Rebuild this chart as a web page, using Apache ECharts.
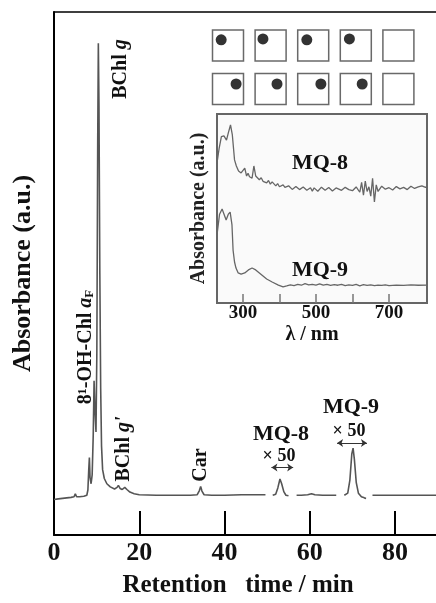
<!DOCTYPE html>
<html>
<head>
<meta charset="utf-8">
<script src="https://cdn.jsdelivr.net/npm/echarts@6/dist/echarts.min.js"></script>
<style>
html, body { margin: 0; padding: 0; background: #fff; }
#chart { width: 436px; height: 603px; }
</style>
</head>
<body>
<div id="chart"></div>
<script>
// chromatogram pieces [retention time (min), absorbance (a.u.)]
const chromMain = [
	[0, 6.8], [1, 6.9], [2, 7.0], [3, 7.1], [4, 7.2], [4.7, 7.3], [5.0, 7.9], [5.3, 7.3], [6, 7.3], [7, 7.4],
	[7.7, 7.6], [7.95, 8.6], [8.15, 12.5], [8.3, 14.8], [8.45, 11.0], [8.7, 9.8], [8.95, 11.5], [9.2, 19],
	[9.4, 29.5], [9.6, 24], [9.85, 19.7], [10.05, 35], [10.25, 75], [10.4, 94], [10.55, 82], [10.75, 50],
	[10.95, 28], [11.15, 17], [11.4, 12.5], [11.8, 10.8], [12.4, 9.8], [13.2, 9.2], [14.2, 8.8], [14.8, 9.1],
	[15.1, 9.5], [15.5, 8.9], [16.0, 8.7], [16.6, 9.1], [17.1, 8.7], [17.8, 8.2], [18.8, 7.9], [20, 7.7],
	[24, 7.6], [28, 7.6], [32, 7.6], [33.6, 7.7], [34.1, 8.5], [34.4, 9.3], [34.7, 8.4], [35.2, 7.7],
	[37, 7.6], [40, 7.6], [44, 7.7], [47, 7.7], [49.6, 7.7]
];
const mq8Seg = [[51.3, 7.6], [52.0, 7.8], [52.5, 9.0], [53.0, 10.7], [53.4, 9.8], [53.9, 8.3], [54.4, 7.6], [55.0, 7.5]];
const midSeg = [[56.9, 7.6], [58, 7.6], [59.5, 7.7], [60.4, 7.9], [61.2, 7.7], [63, 7.6], [66.2, 7.6]];
const mq9Seg = [[68.1, 7.6], [68.9, 8.0], [69.4, 10.5], [69.85, 15.5], [70.15, 16.6], [70.45, 14.5], [70.9, 10],
	[71.4, 8.0], [72.1, 7.3], [72.8, 7.1], [73.2, 7.0]];
const tailSeg = [[74.7, 7.6], [78, 7.6], [82, 7.6], [86, 7.6], [89.6, 7.6]];
const mq8Arrow = [[51.0, 12.9], [56.1, 12.9]];
const mq9Arrow = [[66.4, 17.6], [73.4, 17.6]];
const xTicks = [20, 40, 60, 80];
const xLabels = [0, 20, 40, 60, 80];

// inset absorption spectra [wavelength (nm), absorbance (a.u.)]
const specMQ8 = [
	[229, 74], [235, 82], [241, 88], [248, 88.4], [255, 86.2], [260, 90], [266, 94.2], [271, 88.9], [277, 75.7],
	[282, 72.5], [288, 69.8], [295, 68.8], [300, 68.3], [305, 71.4], [310, 67.2], [314, 68.6], [318, 66.8],
	[325, 66.1], [330, 72.5], [335, 67.2], [340, 66.4], [345, 65.2], [350, 66.3], [355, 64.4], [360, 65.4],
	[365, 63.6], [370, 64.8], [375, 62.9], [380, 64.1], [385, 63.3], [390, 62.0], [395, 63.2], [400, 61.5],
	[405, 60.6], [410, 62.5], [415, 61.2], [420, 60.8], [425, 62.0], [430, 61.8], [435, 60.1], [440, 60.2],
	[445, 61.6], [450, 61.0], [455, 60.0], [460, 59.6], [465, 61.4], [470, 61.2], [475, 59.7], [480, 60.0],
	[485, 61.0], [490, 59.2], [495, 60.9], [500, 60.6], [505, 59.1], [510, 59.4], [515, 61.3], [520, 61.0],
	[525, 59.6], [530, 59.8], [535, 61.1], [540, 60.4], [545, 59.3], [550, 59.0], [555, 60.9], [560, 60.8],
	[570, 59.6], [580, 61.2], [590, 60.0], [600, 59.4], [610, 61.4], [620, 58.6], [625, 63.8], [630, 57.0],
	[635, 64.5], [640, 59.0], [645, 61.5], [650, 56.5], [655, 66.0], [660, 53.5], [665, 62.5], [670, 59.0],
	[680, 61.8], [690, 60.2], [700, 61.0], [710, 59.8], [720, 61.6], [730, 60.4], [740, 61.2], [750, 60.0],
	[760, 61.8], [770, 60.6], [780, 61.4], [790, 62.0], [800, 61.2], [804, 61.6]
];
const specMQ9 = [
	[229, 36], [236, 47], [243, 49.7], [249, 46.6], [254, 43.9], [260, 47], [265, 48.1], [270, 41.3], [273, 28],
	[277, 21.7], [281, 18.5], [287, 15.9], [295, 15.3], [305, 15.9], [315, 17.5], [325, 18.5], [335, 17.5],
	[345, 15.9], [355, 14.3], [365, 12.7], [380, 11.1], [397, 9.5], [410, 8.5], [420, 9.0], [430, 9.6],
	[440, 9.2], [450, 9.8], [460, 9.4], [470, 10.2], [480, 9.6], [490, 9.9], [500, 9.5], [510, 10.1],
	[520, 9.4], [530, 9.8], [540, 9.3], [550, 9.7], [560, 9.4], [570, 9.9], [580, 9.2], [590, 9.6],
	[600, 9.3], [610, 9.8], [620, 9.1], [630, 9.7], [640, 9.3], [650, 9.6], [660, 9.2], [670, 9.5],
	[680, 9.3], [690, 9.6], [700, 9.2], [720, 9.5], [740, 9.3], [760, 9.6], [780, 9.4], [804, 9.5]
];
const insetTicks = [300, 400, 500, 600, 700];
const insetLabels = [300, 500, 700];

// pictogram: 2 rows x 5 squares, dots inside
const squareCells = [[0, 1], [1, 1], [2, 1], [3, 1], [4, 1], [0, 0], [1, 0], [2, 0], [3, 0], [4, 0]];
const dotCells = [[-0.16, 1.13], [0.82, 1.15], [1.85, 1.13], [2.85, 1.15],
	[0.19, 0.115], [1.15, 0.115], [2.18, 0.115], [3.15, 0.115]];

const serif = '"Liberation Serif", "DejaVu Serif", serif';
const ink = "#111";

const chart = echarts.init(document.getElementById("chart"));

function seg(data) {
	return {
		type: "line", xAxisIndex: 0, yAxisIndex: 0, data: data,
		showSymbol: false, smooth: false,
		lineStyle: { color: "#555", width: 1.6 }
	};
}
function arrow(data) {
	return {
		type: "lines", coordinateSystem: "cartesian2d", xAxisIndex: 0, yAxisIndex: 0,
		symbol: ["arrow", "arrow"], symbolSize: 6,
		lineStyle: { color: "#333", width: 1.2, opacity: 1 },
		data: [{ coords: data }]
	};
}
function vtext(x, y, text, rich) {
	return {
		type: "text", x: x, y: y, rotation: Math.PI / 2,
		style: {
			text: text, align: "center", verticalAlign: "middle",
			font: "bold 20px " + serif, fill: ink, rich: rich
		}
	};
}
function htext(x, y, text, size) {
	return {
		type: "text", x: x, y: y,
		style: {
			text: text, align: "center", verticalAlign: "middle",
			font: "bold " + size + "px " + serif, fill: ink
		}
	};
}

const richG = {
	n: { fontFamily: serif, fontWeight: "bold", fontSize: 20, lineHeight: 20, color: ink },
	i: { fontFamily: serif, fontWeight: "bold", fontStyle: "italic", fontSize: 20, lineHeight: 20, color: ink },
	s: { fontFamily: serif, fontWeight: "bold", fontSize: 13, lineHeight: 13, verticalAlign: "bottom", color: ink }
};

const option = {
	animation: false,
	backgroundColor: "#fff",
	grid: [
		{ left: 54, right: 0, top: 12, bottom: 64 },
		{ left: 217, top: 114, width: 210, height: 189, show: true, backgroundColor: "#fafafa", borderColor: "#666", borderWidth: 2 },
		{ left: 206.7, top: 23.75, width: 213, height: 87 }
	],
	xAxis: [
		{
			gridIndex: 0, type: "value", min: 0, max: 89.6,
			axisLine: { show: true, onZero: false, lineStyle: { color: "#000", width: 2 } },
			axisTick: { show: true, inside: true, length: 24, customValues: xTicks, lineStyle: { color: "#000", width: 2 } },
			axisLabel: { customValues: xLabels, margin: 5, fontFamily: serif, fontWeight: "bold", fontSize: 26, color: ink },
			splitLine: { show: false },
			name: "Retention   time / min", nameLocation: "middle", nameGap: 38,
			nameTextStyle: { fontFamily: serif, fontWeight: "bold", fontSize: 25, color: ink, padding: [0, 14, 0, 0] }
		},
		{
			gridIndex: 0, type: "value", position: "top", min: 0, max: 89.6,
			axisLine: { show: true, onZero: false, lineStyle: { color: "#000", width: 1.5 } },
			axisTick: { show: false }, axisLabel: { show: false }, splitLine: { show: false }
		},
		{
			gridIndex: 1, type: "value", min: 229, max: 804,
			axisLine: { show: false },
			axisTick: { show: true, inside: true, length: 9, customValues: insetTicks, lineStyle: { color: "#777", width: 1.5 } },
			axisLabel: { customValues: insetLabels, margin: 1, fontFamily: serif, fontWeight: "bold", fontSize: 19, color: ink },
			splitLine: { show: false },
			name: "λ / nm", nameLocation: "middle", nameGap: 22,
			nameTextStyle: { fontFamily: serif, fontWeight: "bold", fontSize: 20, color: ink, padding: [0, 20, 0, 0] }
		},
		{ gridIndex: 2, type: "value", min: -0.5, max: 4.5, show: false }
	],
	yAxis: [
		{
			gridIndex: 0, type: "value", min: 0, max: 100,
			axisLine: { show: true, lineStyle: { color: "#000", width: 2 } },
			axisTick: { show: false }, axisLabel: { show: false }, splitLine: { show: false },
			name: "Absorbance (a.u.)", nameLocation: "middle", nameGap: 18,
			nameTextStyle: { fontFamily: serif, fontWeight: "bold", fontSize: 26, color: ink }
		},
		{
			gridIndex: 1, type: "value", min: 0, max: 100,
			axisLine: { show: false }, axisTick: { show: false }, axisLabel: { show: false }, splitLine: { show: false },
			name: "Absorbance (a.u.)", nameLocation: "middle", nameGap: 8,
			nameTextStyle: { fontFamily: serif, fontWeight: "bold", fontSize: 20, color: "#222" }
		},
		{ gridIndex: 2, type: "value", min: -0.5, max: 1.5, show: false }
	],
	series: [
		seg(chromMain), seg(mq8Seg), seg(midSeg), seg(mq9Seg), seg(tailSeg),
		arrow(mq8Arrow), arrow(mq9Arrow),
		{
			type: "line", xAxisIndex: 2, yAxisIndex: 1, data: specMQ8, showSymbol: false,
			lineStyle: { color: "#666", width: 1.3 }
		},
		{
			type: "line", xAxisIndex: 2, yAxisIndex: 1, data: specMQ9, showSymbol: false,
			lineStyle: { color: "#666", width: 1.3 }
		},
		{
			type: "scatter", xAxisIndex: 3, yAxisIndex: 2, data: squareCells,
			symbol: "rect", symbolSize: 31,
			itemStyle: { color: "rgba(255,255,255,0)", borderColor: "#444", borderWidth: 1.5 }
		},
		{
			type: "scatter", xAxisIndex: 3, yAxisIndex: 2, data: dotCells,
			symbol: "circle", symbolSize: 11,
			itemStyle: { color: "#000" }
		}
	],
	graphic: [
		vtext(121, 69, "{n|BChl }{i|g}", richG),
		vtext(86, 347, "{n|8¹-OH-Chl }{i|a}{s|F}", richG),
		vtext(124, 449, "{n|BChl }{i|g'}", richG),
		vtext(201, 465, "{n|Car}", richG),
		htext(281, 434, "MQ-8", 22),
		htext(279, 456, "× 50", 18),
		htext(351, 407, "MQ-9", 22),
		htext(349, 431, "× 50", 18),
		htext(320, 163, "MQ-8", 22),
		htext(320, 270, "MQ-9", 22)
	]
};

chart.setOption(option);
window.onresize = chart.resize;
</script>
</body>
</html>
